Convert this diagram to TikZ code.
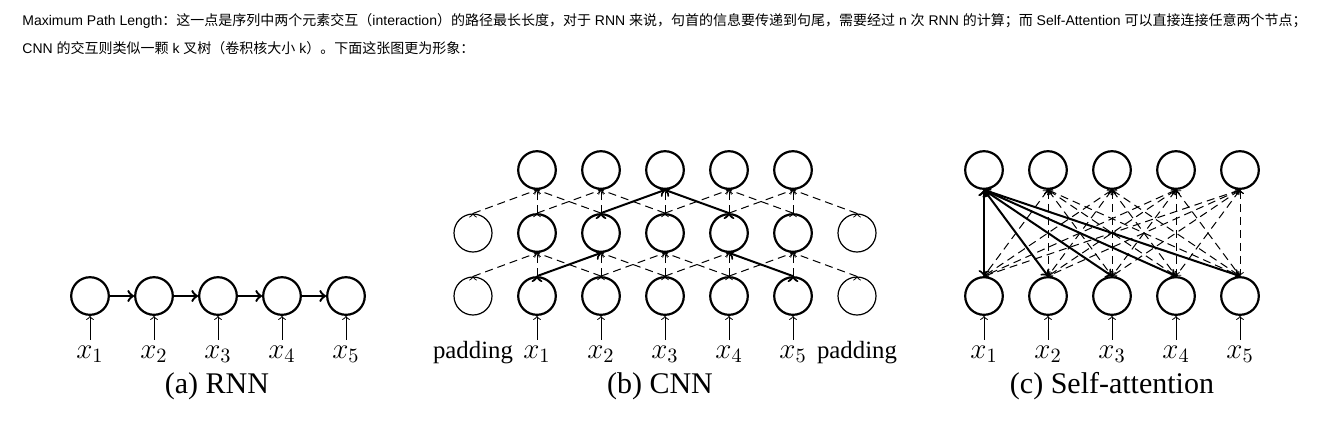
\RequirePackage{fix-cm}
\documentclass[tikz,border=0pt]{standalone}
\usepackage[no-math]{fontspec}
\setmainfont{Liberation Serif}
\newfontfamily\cjk{Noto Sans CJK SC}
\newfontfamily\lat{Liberation Sans}

\begin{document}
\begin{tikzpicture}[x=0.5pt,y=-0.5pt,
  unit/.style={draw,circle,line width=1.1pt,minimum size=18.8pt,inner sep=0pt},
  padunit/.style={draw,circle,line width=0.6pt,minimum size=19pt,inner sep=0pt},
  lbl/.style={font=\fontsize{14.5}{17}\selectfont,anchor=base,inner sep=0pt,outer sep=3pt},
  padlbl/.style={font=\fontsize{12.4}{15}\selectfont,anchor=base,inner sep=0pt},
  subcap/.style={font=\fontsize{15}{18}\selectfont,anchor=base,inner sep=0pt},
  txt/.style={font=\fontsize{7}{8}\selectfont,anchor=base west,inner sep=0pt},
  inp/.style={draw,line width=0.5pt,->},
  weak/.style={draw,line width=0.5pt,dash pattern=on 4pt off 2.5pt,->},
  strong/.style={draw,line width=1pt,->}]
\useasboundingbox (0,0) rectangle (1318,420);

\node[txt] (line1) at (22,25) {{\lat Maximum Path Length}{\cjk ：这一点是序列中两个元素交互（}{\lat interaction}{\cjk ）的路径最长长度，对于}{\lat\ RNN }{\cjk 来说，句首的信息要传递到句尾，需要经过}{\lat\ n }{\cjk 次}{\lat\ RNN }{\cjk 的计算；而}{\lat\ Self-Attention }{\cjk 可以直接连接任意两个节点；}};
\node[txt] (line2) at (22,53) {{\lat CNN }{\cjk 的交互则类似一颗}{\lat\ k }{\cjk 叉树（卷积核大小}{\lat\ k}{\cjk ）。下面这张图更为形象：}};

% (a) RNN
\node[unit] (r1) at (90,296) {};
\node[unit] (r2) at (154,296) {};
\node[unit] (r3) at (218,296) {};
\node[unit] (r4) at (282,296) {};
\node[unit] (r5) at (346,296) {};
\node[lbl] (rx1) at (90,358) {$x_1$};
\node[lbl] (rx2) at (154,358) {$x_2$};
\node[lbl] (rx3) at (218,358) {$x_3$};
\node[lbl] (rx4) at (282,358) {$x_4$};
\node[lbl] (rx5) at (346,358) {$x_5$};
\node[subcap] (capa) at (217,393) {(a) RNN};

\path[draw,line width=1.2pt,->] (r1) edge (r2);
\path[draw,line width=1.2pt,->] (r2) edge (r3);
\path[draw,line width=1.2pt,->] (r3) edge (r4);
\path[draw,line width=1.2pt,->] (r4) edge (r5);
\path[inp] (rx1) edge (r1) (rx2) edge (r2) (rx3) edge (r3) (rx4) edge (r4) (rx5) edge (r5);

% (b) CNN
\node[padunit] (cb0) at (473,296) {};
\node[unit] (cb1) at (537,296) {};
\node[unit] (cb2) at (601,296) {};
\node[unit] (cb3) at (665,296) {};
\node[unit] (cb4) at (729,296) {};
\node[unit] (cb5) at (793,296) {};
\node[padunit] (cb6) at (857,296) {};
\node[padunit] (cm0) at (473,233) {};
\node[unit] (cm1) at (537,233) {};
\node[unit] (cm2) at (601,233) {};
\node[unit] (cm3) at (665,233) {};
\node[unit] (cm4) at (729,233) {};
\node[unit] (cm5) at (793,233) {};
\node[padunit] (cm6) at (857,233) {};
\node[unit] (ct1) at (537,170) {};
\node[unit] (ct2) at (601,170) {};
\node[unit] (ct3) at (665,170) {};
\node[unit] (ct4) at (729,170) {};
\node[unit] (ct5) at (793,170) {};
\node[padlbl] (padl) at (473,358) {padding};
\node[lbl] (cx1) at (537,358) {$x_1$};
\node[lbl] (cx2) at (601,358) {$x_2$};
\node[lbl] (cx3) at (665,358) {$x_3$};
\node[lbl] (cx4) at (729,358) {$x_4$};
\node[lbl] (cx5) at (793,358) {$x_5$};
\node[padlbl] (padr) at (857,358) {padding};
\node[subcap] (capb) at (660,393) {(b) CNN};

\path[weak] (cb0.north) edge (cm1.south);
\path[weak] (cb1.north) edge (cm1.south);
\path[weak] (cb2.north) edge (cm1.south) edge (cm2.south) edge (cm3.south);
\path[weak] (cb3.north) edge (cm2.south) edge (cm3.south) edge (cm4.south);
\path[weak] (cb4.north) edge (cm3.south) edge (cm4.south) edge (cm5.south);
\path[weak] (cb5.north) edge (cm5.south);
\path[weak] (cb6.north) edge (cm5.south);
\path[weak] (cm0.north) edge (ct1.south);
\path[weak] (cm1.north) edge (ct1.south) edge (ct2.south);
\path[weak] (cm2.north) edge (ct1.south) edge (ct2.south);
\path[weak] (cm3.north) edge (ct2.south) edge (ct3.south) edge (ct4.south);
\path[weak] (cm4.north) edge (ct4.south) edge (ct5.south);
\path[weak] (cm5.north) edge (ct4.south) edge (ct5.south);
\path[weak] (cm6.north) edge (ct5.south);
\path[strong] (cb1.north) edge (cm2.south);
\path[strong] (cb5.north) edge (cm4.south);
\path[strong] (cm2.north) edge (ct3.south);
\path[strong] (cm4.north) edge (ct3.south);
\path[inp] (cx1) edge (cb1) (cx2) edge (cb2) (cx3) edge (cb3) (cx4) edge (cb4) (cx5) edge (cb5);

% (c) Self-attention
\node[unit] (st1) at (984,170) {};
\node[unit] (st2) at (1048,170) {};
\node[unit] (st3) at (1112,170) {};
\node[unit] (st4) at (1176,170) {};
\node[unit] (st5) at (1240,170) {};
\node[unit] (sb1) at (984,296) {};
\node[unit] (sb2) at (1048,296) {};
\node[unit] (sb3) at (1112,296) {};
\node[unit] (sb4) at (1176,296) {};
\node[unit] (sb5) at (1240,296) {};
\node[lbl] (sx1) at (984,358) {$x_1$};
\node[lbl] (sx2) at (1048,358) {$x_2$};
\node[lbl] (sx3) at (1112,358) {$x_3$};
\node[lbl] (sx4) at (1176,358) {$x_4$};
\node[lbl] (sx5) at (1240,358) {$x_5$};
\node[subcap] (capc) at (1112,393) {(c) Self-attention};

\path[weak,<->] (st2.south) edge (sb1.north) edge (sb2.north) edge (sb3.north) edge (sb4.north) edge (sb5.north);
\path[weak,<->] (st3.south) edge (sb1.north) edge (sb2.north) edge (sb3.north) edge (sb4.north) edge (sb5.north);
\path[weak,<->] (st4.south) edge (sb1.north) edge (sb2.north) edge (sb3.north) edge (sb4.north) edge (sb5.north);
\path[weak,<->] (st5.south) edge (sb1.north) edge (sb2.north) edge (sb3.north) edge (sb4.north) edge (sb5.north);
\path[strong,<->] (st1.south) edge (sb1.north) edge (sb2.north) edge (sb3.north) edge (sb4.north) edge (sb5.north);
\path[inp] (sx1) edge (sb1) (sx2) edge (sb2) (sx3) edge (sb3) (sx4) edge (sb4) (sx5) edge (sb5);
\end{tikzpicture}
\end{document}
